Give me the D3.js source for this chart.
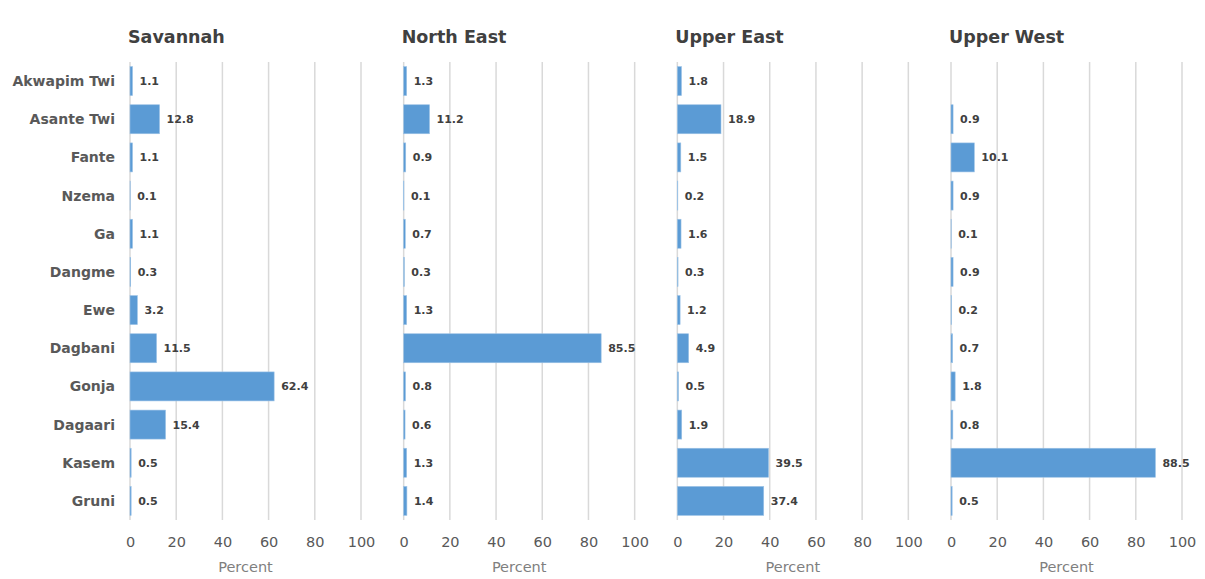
<!DOCTYPE html>
<html><head><meta charset="utf-8">
<script src="https://cdn.jsdelivr.net/npm/d3@7"></script>
<style>body{margin:0;background:#fff}svg{display:block}</style>
</head><body>
<script>
const categories = ["Akwapim Twi","Asante Twi","Fante","Nzema","Ga","Dangme","Ewe","Dagbani","Gonja","Dagaari","Kasem","Gruni"];
const regions = ["Savannah","North East","Upper East","Upper West"];
const savannah  = [1.1, 12.8, 1.1, 0.1, 1.1, 0.3, 3.2, 11.5, 62.4, 15.4, 0.5, 0.5];
const northEast = [1.3, 11.2, 0.9, 0.1, 0.7, 0.3, 1.3, 85.5, 0.8, 0.6, 1.3, 1.4];
const upperEast = [1.8, 18.9, 1.5, 0.2, 1.6, 0.3, 1.2, 4.9, 0.5, 1.9, 39.5, 37.4];
const upperWest = [null, 0.9, 10.1, 0.9, 0.1, 0.9, 0.2, 0.7, 1.8, 0.8, 88.5, 0.5];
const xTicks = [0, 20, 40, 60, 80, 100];
const axisTitle = "Percent";

const series = [savannah, northEast, upperEast, upperWest];
const W = 1205, H = 579;
const font = "'DejaVu Sans', sans-serif";
const svg = d3.select("body").append("svg").attr("width", W).attr("height", H);

const plotTop = 62, plotBottom = 520, panelW = 231;
const y = d3.scaleBand().domain(categories).range([plotTop, plotBottom]).paddingInner(0.24).paddingOuter(0.12);
const panelX = d3.scaleLinear().domain([0, 3]).range([130, 951]);

regions.forEach((r, i) => {
  const x0 = panelX(i);
  const x = d3.scaleLinear().domain([0, 100]).range([0, panelW]);
  const g = svg.append("g").attr("transform", `translate(${x0},0)`);

  g.selectAll("line.grid").data(xTicks).join("line")
    .attr("x1", d => x(d)).attr("x2", d => x(d))
    .attr("y1", plotTop).attr("y2", plotBottom)
    .attr("stroke", "#d9d9d9").attr("stroke-width", 1.5);

  const ax = g.append("g").attr("transform", `translate(0,${plotBottom})`)
    .call(d3.axisBottom(x).tickValues(xTicks).tickSize(0).tickPadding(17));
  ax.select(".domain").remove();
  ax.selectAll("text").attr("font-family", font).attr("font-size", 14.5).attr("fill", "#595959");

  g.append("text").attr("x", x(50)).attr("y", 572).attr("text-anchor", "middle")
    .attr("font-family", font).attr("font-size", 14.5).attr("fill", "#7f7f7f").text(axisTitle);

  g.append("text").attr("x", -2).attr("y", 43)
    .attr("font-family", font).attr("font-size", 17.5).attr("font-weight", "bold").attr("fill", "#404040").text(r);

  const data = categories.map((c, k) => ({c, v: series[i][k]})).filter(d => d.v != null);

  g.selectAll("rect.bar").data(data).join("rect")
    .attr("x", 0).attr("y", d => y(d.c))
    .attr("width", d => x(d.v)).attr("height", y.bandwidth())
    .attr("fill", "#5b9bd5").attr("stroke", "#9dc3e6").attr("stroke-width", 0.6);

  g.selectAll("text.lbl").data(data).join("text")
    .attr("x", d => x(d.v) + 7).attr("y", d => y(d.c) + y.bandwidth() / 2)
    .attr("dy", "0.36em")
    .attr("font-family", font).attr("font-size", 11).attr("font-weight", "bold").attr("fill", "#404040")
    .text(d => d.v.toFixed(1));

  if (i === 0) {
    g.selectAll("text.cat").data(categories).join("text")
      .attr("x", -15).attr("y", d => y(d) + y.bandwidth() / 2).attr("dy", "0.36em")
      .attr("text-anchor", "end")
      .attr("font-family", font).attr("font-size", 14).attr("font-weight", "bold").attr("fill", "#595959")
      .text(d => d);
  }
});
</script>
</body></html>
